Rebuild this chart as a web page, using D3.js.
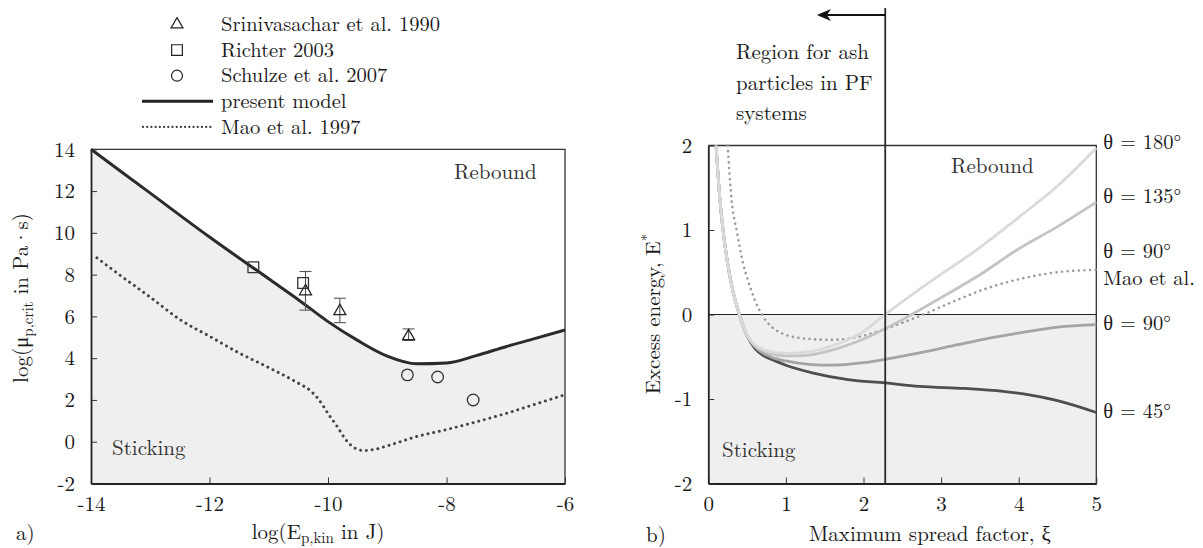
<!DOCTYPE html>
<html><head><meta charset="utf-8">
<script src="https://cdn.jsdelivr.net/npm/d3@7"></script>
<style>body{margin:0;background:#fff;}</style></head><body>
<svg id="c" width="1203" height="548"></svg>
<script>
// ---------- Left chart data (a) ----------
const xTicksL = [-14,-12,-10,-8,-6];
const yTicksL = [-2,0,2,4,6,8,10,12,14];
const presentX = [-14,-13,-12,-11,-10.5,-10,-9.5,-9,-8.5,-8,-7.5,-7,-6.5,-6];
const presentY = [14,11.9,9.8,7.8,6.8,5.75,4.85,4.1,3.73,3.77,4.12,4.55,4.95,5.35];
const maoX = [-13.9,-13.5,-13,-12.5,-12,-11.5,-11,-10.5,-10.3,-10.15,-10,-9.85,-9.7,-9.55,-9.4,-9.2,-9,-8.5,-8,-7.5,-7,-6.5,-6];
const maoY = [8.8,7.95,6.92,5.85,5.05,4.25,3.55,2.8,2.45,2.0,1.35,0.75,0.1,-0.3,-0.42,-0.36,-0.2,0.25,0.58,0.95,1.35,1.8,2.25];
const squareX = [-11.26,-10.42];
const squareY = [8.35,7.6];
const triX = [-10.38,-9.8,-8.64];
const triY = [7.2,6.25,5.05];
const triLow = [6.3,5.7,4.85];
const triHigh = [8.15,6.87,5.4];
const circleX = [-8.66,-8.15,-7.55];
const circleY = [3.2,3.1,2.0];
const legendLabels = ["Srinivasachar et al. 1990","Richter 2003","Schulze et al. 2007","present model","Mao et al. 1997"];

// ---------- Right chart data (b) ----------
const xTicksR = [0,1,2,3,4,5];
const yTicksR = [-2,-1,0,1,2];
const xi180 = [0.1,0.15,0.19,0.25,0.3,0.4,0.5,0.6,0.8,1.0,1.3,1.6,2.0,2.28,2.8,3.45,4.0,4.5,5.0];
const e180  = [2.0,1.36,1.0,0.6,0.35,0.0,-0.24,-0.36,-0.44,-0.46,-0.44,-0.37,-0.2,0.0,0.35,0.76,1.15,1.52,1.97];
const xi135 = [0.1,0.15,0.19,0.25,0.3,0.4,0.5,0.6,0.8,1.0,1.3,1.6,2.0,2.28,2.62,3.0,3.5,3.97,4.5,5.0];
const e135  = [2.0,1.36,1.0,0.6,0.35,0.0,-0.24,-0.37,-0.46,-0.49,-0.48,-0.42,-0.29,-0.17,0.0,0.2,0.47,0.76,1.04,1.33];
const xi90  = [0.1,0.15,0.19,0.25,0.3,0.4,0.5,0.6,0.8,1.0,1.3,1.6,2.0,2.28,2.8,3.2,3.56,4.0,4.5,5.0];
const e90   = [2.0,1.36,1.0,0.6,0.35,0.0,-0.25,-0.38,-0.5,-0.55,-0.59,-0.6,-0.57,-0.53,-0.44,-0.36,-0.29,-0.22,-0.15,-0.12];
const xiMao = [0.25,0.3,0.37,0.45,0.52,0.6,0.69,0.9,1.2,1.58,2.0,2.28,2.77,3.2,3.56,4.06,4.5,5.0];
const eMao  = [2.0,1.36,0.97,0.6,0.38,0.17,0.0,-0.2,-0.28,-0.3,-0.25,-0.17,0.0,0.17,0.3,0.43,0.5,0.53];
const xi45  = [0.1,0.15,0.19,0.25,0.3,0.4,0.5,0.6,0.7,0.84,1.0,1.34,1.8,2.28,2.72,3.3,3.8,4.06,4.5,5.0];
const e45   = [2.0,1.36,1.0,0.6,0.35,0.0,-0.25,-0.4,-0.48,-0.54,-0.6,-0.69,-0.77,-0.81,-0.85,-0.875,-0.91,-0.94,-1.02,-1.16];
const regionXi = 2.28;
const arrowToXi = 1.4;
const rightLabels = ["θ = 180°","θ = 135°","θ = 90°","Mao et al.","θ = 90°","θ = 45°"];
const rightLabelE = [2.04,1.40,0.75,0.43,-0.10,-1.14];

const FONT = '"Latin Modern Roman","Liberation Serif","Times New Roman",serif';
const svg = d3.select('#c').style('font-family',FONT);
const zip = (a,b)=>a.map((v,i)=>[v,b[i]]);
function txt(x,y,t,size,opts={}){
  const e = svg.append('text').attr('x',x).attr('y',y)
    .style('font-family',FONT).style('font-size',size+'px').style('fill',opts.fill||'#1a1a1a');
  if(opts.dy) e.attr('dy',opts.dy);
  if(opts.anchor) e.attr('text-anchor',opts.anchor);
  if(t!==null) e.text(t);
  return e;
}

// ================= LEFT =================
const xL = d3.scaleLinear().domain([-14,-6]).range([91,565]);
const yL = d3.scaleLinear().domain([-2,14]).range([483.5,149.3]);
const present = zip(presentX,presentY);
const mao = zip(maoX,maoY);

svg.append('path').datum(present)
  .attr('d', d3.area().x(d=>xL(d[0])).y0(yL(-2)).y1(d=>yL(d[1])).curve(d3.curveMonotoneX))
  .attr('fill','#efefef');

function styleAxis(g, fs){
  g.attr('font-family',null).attr('font-size',fs);
  g.selectAll('.tick line').attr('stroke','#333').attr('stroke-width',1);
  g.selectAll('.tick text').style('font-size',fs+'px').style('font-family',FONT).style('fill','#1a1a1a');
}
const gxL = svg.append('g').attr('transform',`translate(0,${yL(-2)})`)
  .call(d3.axisBottom(xL).tickValues(xTicksL).tickSize(-6).tickSizeOuter(0).tickPadding(13).tickFormat(d=>String(d)));
styleAxis(gxL,21); gxL.select('.domain').attr('stroke','#222').attr('stroke-width',2.2);
const gyL = svg.append('g').attr('transform',`translate(${xL(-14)},0)`)
  .call(d3.axisLeft(yL).tickValues(yTicksL).tickSize(-6).tickSizeOuter(0).tickPadding(16).tickFormat(d=>String(d)));
styleAxis(gyL,21); gyL.select('.domain').attr('stroke','#222').attr('stroke-width',1.8);
svg.append('path').attr('d',`M${xL(-14)},${yL(14)}H${xL(-6)}V${yL(-2)}`).attr('fill','none').attr('stroke','#333').attr('stroke-width',1.3);

svg.append('path').datum(mao)
  .attr('d', d3.line().x(d=>xL(d[0])).y(d=>yL(d[1])).curve(d3.curveMonotoneX))
  .attr('fill','none').attr('stroke','#444').attr('stroke-width',3)
  .attr('stroke-dasharray','0.01 5.8').attr('stroke-linecap','round');
svg.append('path').datum(present)
  .attr('d', d3.line().x(d=>xL(d[0])).y(d=>yL(d[1])).curve(d3.curveMonotoneX))
  .attr('fill','none').attr('stroke','#2b2b2b').attr('stroke-width',3);

triX.forEach((x,i)=>{
  const g = svg.append('g').attr('stroke','#555').attr('stroke-width',1.1);
  g.append('line').attr('x1',xL(x)).attr('x2',xL(x)).attr('y1',yL(triLow[i])).attr('y2',yL(triHigh[i]));
  g.append('line').attr('x1',xL(x)-6).attr('x2',xL(x)+6).attr('y1',yL(triLow[i])).attr('y2',yL(triLow[i]));
  g.append('line').attr('x1',xL(x)-6).attr('x2',xL(x)+6).attr('y1',yL(triHigh[i])).attr('y2',yL(triHigh[i]));
});
const triSym = d3.symbol(d3.symbolTriangle,62)();
const sqSym = d3.symbol(d3.symbolSquare,115)();
svg.selectAll('.tri').data(zip(triX,triY)).join('path')
  .attr('d',triSym).attr('transform',d=>`translate(${xL(d[0])},${yL(d[1])})`)
  .attr('fill','none').attr('stroke','#222').attr('stroke-width',1.3);
svg.selectAll('.sq').data(zip(squareX,squareY)).join('path')
  .attr('d',sqSym).attr('transform',d=>`translate(${xL(d[0])},${yL(d[1])})`)
  .attr('fill','none').attr('stroke','#333').attr('stroke-width',1.3);
svg.selectAll('.ci').data(zip(circleX,circleY)).join('circle')
  .attr('cx',d=>xL(d[0])).attr('cy',d=>yL(d[1])).attr('r',5.8)
  .attr('fill','none').attr('stroke','#333').attr('stroke-width',1.3);

// legend
const legY = i=>24.5+25.6*i;
legendLabels.forEach((t,i)=>{ txt(221,legY(i),t,20.5,{dy:'0.33em'}); });
svg.append('path').attr('d',triSym).attr('transform',`translate(177,${legY(0)})`).attr('fill','none').attr('stroke','#222').attr('stroke-width',1.2);
svg.append('path').attr('d',sqSym).attr('transform',`translate(177,${legY(1)})`).attr('fill','none').attr('stroke','#222').attr('stroke-width',1.2);
svg.append('circle').attr('cx',177).attr('cy',legY(2)).attr('r',5.5).attr('fill','none').attr('stroke','#222').attr('stroke-width',1.2);
svg.append('line').attr('x1',142).attr('x2',213).attr('y1',legY(3)).attr('y2',legY(3)).attr('stroke','#222').attr('stroke-width',3);
svg.append('line').attr('x1',143).attr('x2',213).attr('y1',legY(4)).attr('y2',legY(4)).attr('stroke','#333').attr('stroke-width',2.2).attr('stroke-dasharray','0.01 4.2').attr('stroke-linecap','round');

// left texts
txt(454,172,'Rebound',21,{dy:'0.33em',fill:'#333'});
txt(112,448,'Sticking',21,{dy:'0.33em',fill:'#333'});
txt(16,533,'a)',21,{dy:'0.33em'});
const xlab = txt(318,539,null,21,{anchor:'middle'});
xlab.append('tspan').text('log(E');
xlab.append('tspan').attr('dy',4).style('font-size','15px').text('p,kin');
xlab.append('tspan').attr('dy',-4).text(' in J)');
const ylab = txt(0,0,null,21,{anchor:'middle'}).attr('transform','translate(28,298) rotate(-90)');
ylab.append('tspan').text('log(μ');
ylab.append('tspan').attr('dy',5).style('font-size','15px').text('p,crit');
ylab.append('tspan').attr('dy',-5).text(' in Pa·s)');

// ================= RIGHT =================
const xR = d3.scaleLinear().domain([0,5]).range([708.3,1096.3]);
const yR = d3.scaleLinear().domain([-2,2]).range([483.5,145.5]);

svg.append('rect').attr('x',xR(0)).attr('y',yR(0)).attr('width',xR(5)-xR(0)).attr('height',yR(-2)-yR(0)).attr('fill','#efefef');
svg.append('defs').append('clipPath').attr('id','clipR').append('rect')
  .attr('x',xR(0)).attr('y',yR(2)-2).attr('width',xR(5)-xR(0)+2).attr('height',yR(-2)-yR(2)+2);

const gxR = svg.append('g').attr('transform',`translate(0,${yR(-2)})`)
  .call(d3.axisBottom(xR).tickValues(xTicksR).tickSize(-6).tickSizeOuter(0).tickPadding(13).tickFormat(d=>String(d)));
styleAxis(gxR,21); gxR.select('.domain').attr('stroke','#222').attr('stroke-width',2.2);
const gyR = svg.append('g').attr('transform',`translate(${xR(0)},0)`)
  .call(d3.axisLeft(yR).tickValues(yTicksR).tickSize(-6).tickSizeOuter(0).tickPadding(16).tickFormat(d=>String(d)));
styleAxis(gyR,21); gyR.select('.domain').attr('stroke','#222').attr('stroke-width',1.8);
svg.append('path').attr('d',`M${xR(0)},${yR(2)}H${xR(5)}V${yR(-2)}`).attr('fill','none').attr('stroke','#333').attr('stroke-width',1.3);
svg.append('line').attr('x1',xR(0)).attr('x2',xR(5)).attr('y1',yR(0)).attr('y2',yR(0)).attr('stroke','#222').attr('stroke-width',1.2);

const lineR = d3.line().x(d=>xR(d[0])).y(d=>yR(d[1])).curve(d3.curveMonotoneX);
const gl = svg.append('g').attr('clip-path','url(#clipR)').attr('fill','none').attr('stroke-width',2.8);
gl.append('path').datum(zip(xi45,e45)).attr('d',lineR).attr('stroke','#4e4e4e');
gl.append('path').datum(zip(xi90,e90)).attr('d',lineR).attr('stroke','#a4a4a4');
gl.append('path').datum(zip(xiMao,eMao)).attr('d',lineR).attr('stroke','#9a9a9a').attr('stroke-width',2.6)
  .attr('stroke-dasharray','0.01 5.6').attr('stroke-linecap','round');
gl.append('path').datum(zip(xi135,e135)).attr('d',lineR).attr('stroke','#c4c4c4');
gl.append('path').datum(zip(xi180,e180)).attr('d',lineR).attr('stroke','#dadada');

// region annotation
svg.append('line').attr('x1',xR(regionXi)).attr('x2',xR(regionXi)).attr('y1',8).attr('y2',yR(-2)).attr('stroke','#2a2a2a').attr('stroke-width',1.8);
svg.append('line').attr('x1',xR(regionXi)).attr('x2',xR(arrowToXi)+4).attr('y1',15).attr('y2',15).attr('stroke','#111').attr('stroke-width',1.8);
svg.append('path').attr('d',`M${xR(arrowToXi)},15 l14,-6 l-4,6 l4,6 z`).attr('fill','#111');
['Region for ash','particles in PF','systems'].forEach((t,i)=>{ txt(736,52+30.7*i,t,21,{dy:'0.33em'}); });
txt(951,166,'Rebound',21,{dy:'0.33em',fill:'#333'});
txt(722,450,'Sticking',21,{dy:'0.33em',fill:'#333'});
rightLabels.forEach((t,i)=>{ txt(xR(5)+7,yR(rightLabelE[i]),t,20.5,{dy:'0.33em'}); });
txt(646,535,'b)',21,{dy:'0.33em'});
txt(930,541,'Maximum spread factor, ξ',21,{anchor:'middle'});
const ylabR = txt(0,0,null,21,{anchor:'middle'}).attr('transform','translate(660,314) rotate(-90)');
ylabR.append('tspan').text('Excess energy, E');
ylabR.append('tspan').attr('dy',-8).style('font-size','15px').text('*');
</script></body></html>
